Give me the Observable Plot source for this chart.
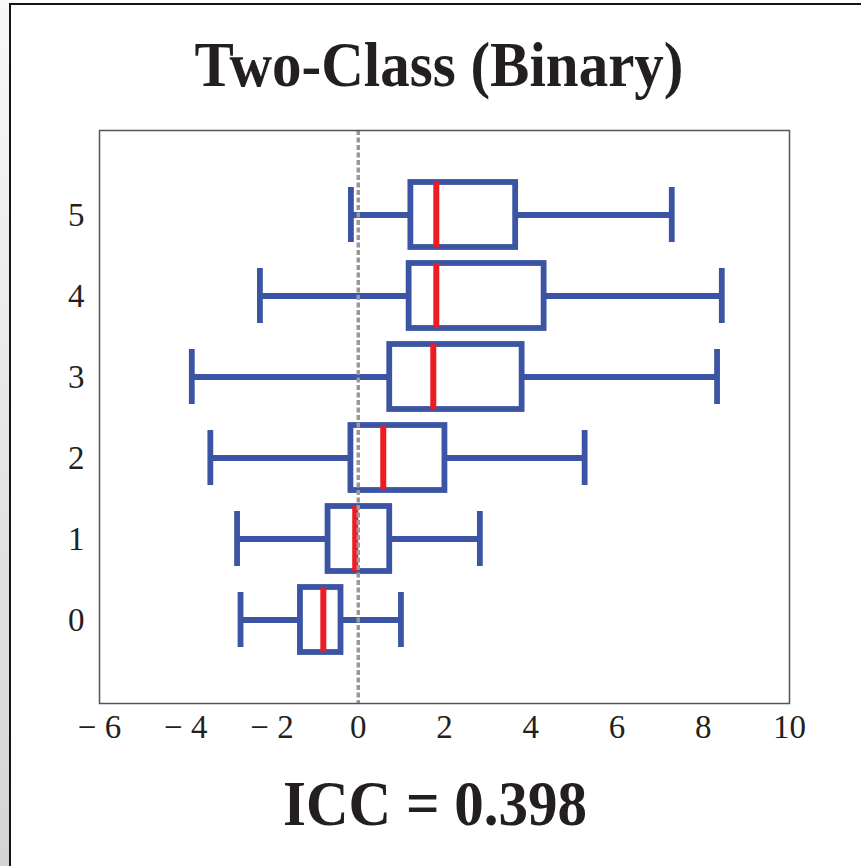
<!DOCTYPE html>
<html>
<head>
<meta charset="utf-8">
<script src="https://cdn.jsdelivr.net/npm/d3@7"></script>
<script src="https://cdn.jsdelivr.net/npm/@observablehq/plot@0.6"></script>
<style>
  body { margin: 0; background: #fff; }
  #page { position: relative; width: 861px; height: 866px; overflow: hidden; background: #fff; }
  #strip { position: absolute; left: 0; top: 0; width: 9px; height: 866px; background: linear-gradient(#f8f8f8, #d4d4d4); }
  #vline { position: absolute; left: 9px; top: 3px; width: 2px; height: 863px; background: #151515; }
  #hline { position: absolute; left: 9px; top: 3px; width: 852px; height: 2px; background: #151515; }
  .label { position: absolute; font-family: "Liberation Serif", "Times New Roman", serif; font-weight: bold; font-size: 59px; line-height: 1; color: #231f20; white-space: nowrap; transform-origin: 50% 85%; transform: translateX(-50%) scaleY(1.08); }
  #title { left: 439px; top: 37px; }
  #caption { left: 435px; top: 776px; }
  #chart { position: absolute; left: 0; top: 100px; }
</style>
</head>
<body>
<div id="page">
  <div id="strip"></div>
  <div id="vline"></div>
  <div id="hline"></div>
  <div id="title" class="label">Two-Class (Binary)</div>
  <div id="chart"></div>
  <div id="caption" class="label">ICC = 0.398</div>
</div>
<script>
// Data
const categories  = [0, 1, 2, 3, 4, 5];
const whiskerLow  = [-2.73, -2.81, -3.43, -3.86, -2.28, -0.17];
const q1          = [-1.34, -0.70, -0.17, 0.73, 1.18, 1.22];
const median      = [-0.81, -0.07, 0.58, 1.74, 1.81, 1.81];
const q3          = [-0.40, 0.73, 2.01, 3.80, 4.31, 3.65];
const whiskerHigh = [0.99, 2.82, 5.25, 8.32, 8.43, 7.27];
const xTicks      = [-6, -4, -2, 0, 2, 4, 6, 8, 10];
const xDomain     = [-6, 10];
const refLine     = [0];

const rows = categories.map((c, i) => ({
  cat: c, lo: whiskerLow[i], q1: q1[i], med: median[i], q3: q3[i], hi: whiskerHigh[i]
}));

const blue = "#3b55a4";
const red = "#ed1c24";

const chart = Plot.plot({
  width: 861,
  height: 653,
  marginLeft: 99,
  marginRight: 72,
  marginTop: 30,
  marginBottom: 50,
  style: { fontFamily: "'Liberation Serif', 'Times New Roman', serif", fontSize: "33px", color: "#231f20", background: "transparent", overflow: "visible" },
  x: {
    domain: xDomain,
    ticks: xTicks,
    tickSize: 0,
    tickPadding: 11,
    tickFormat: d => d < 0 ? `\u2212 ${Math.abs(d)}` : `${d}`,
    label: null
  },
  y: {
    type: "band",
    domain: categories.slice().reverse(),
    paddingInner: 0.2,
    paddingOuter: 0.6,
    tickSize: 0,
    tickPadding: 15,
    label: null
  },
  marks: [
    // whiskers
    Plot.ruleY(rows, { y: "cat", x1: "lo", x2: "q1", stroke: blue, strokeWidth: 5.8 }),
    Plot.ruleY(rows, { y: "cat", x1: "q3", x2: "hi", stroke: blue, strokeWidth: 5.8 }),
    // caps
    Plot.tickX(rows, { x: "lo", y: "cat", stroke: blue, strokeWidth: 5.8, insetTop: 5, insetBottom: 5 }),
    Plot.tickX(rows, { x: "hi", y: "cat", stroke: blue, strokeWidth: 5.8, insetTop: 5, insetBottom: 5 }),
    // boxes
    Plot.barX(rows, { y: "cat", x1: "q1", x2: "q3", fill: "none", stroke: blue, strokeWidth: 5.8 }),
    // medians
    Plot.tickX(rows, { x: "med", y: "cat", stroke: red, strokeWidth: 6 }),
    // zero reference line
    Plot.ruleX(refLine, { stroke: "#999", strokeWidth: 3.5, strokeDasharray: "5,2.5" }),
    Plot.frame({ stroke: "#555", strokeWidth: 1.5 })
  ]
});
document.getElementById("chart").appendChild(chart);
</script>
</body>
</html>
